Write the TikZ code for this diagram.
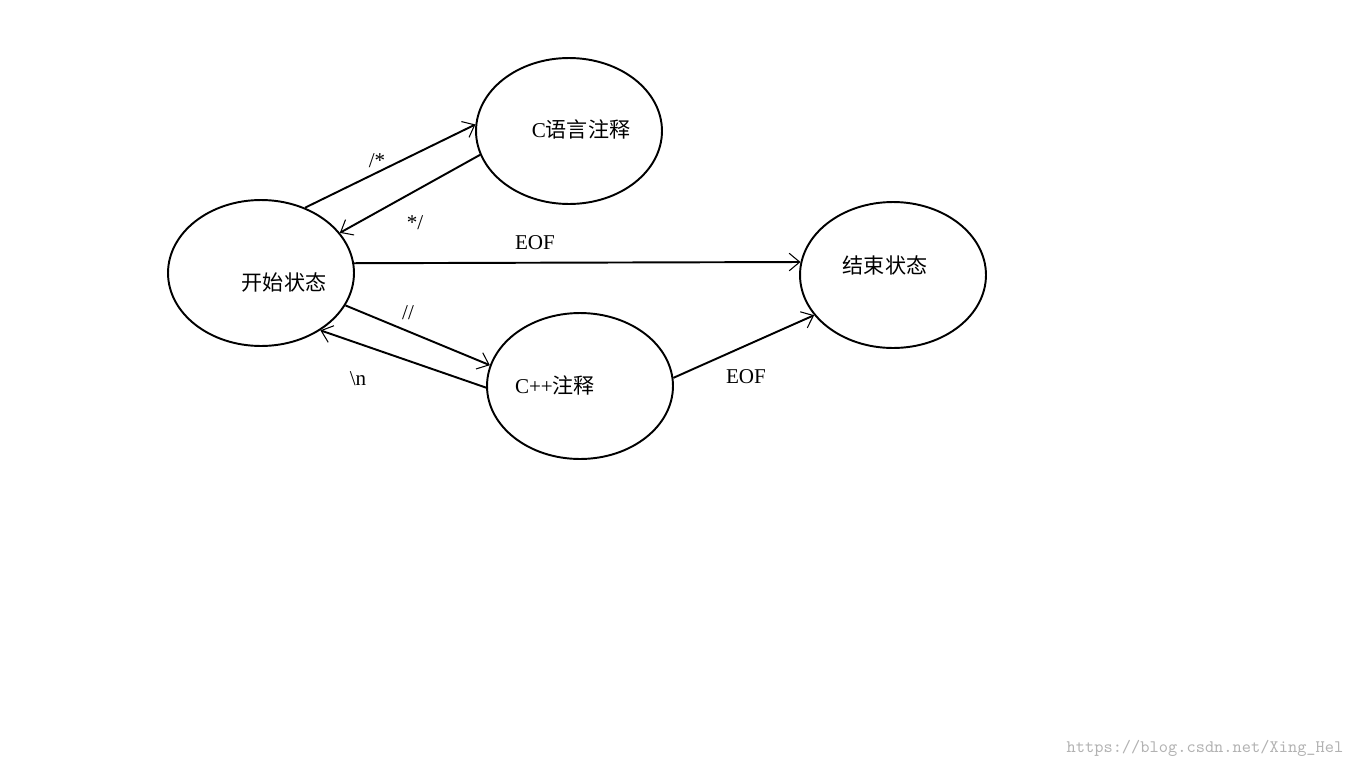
\documentclass[tikz,border=0pt]{standalone}
\usepackage{fontspec}
\setmainfont{Liberation Serif}
\newfontfamily\cjk{Noto Sans CJK SC}
\usetikzlibrary{shapes.geometric,arrows.meta}
\tikzset{
    state/.style={draw, ellipse, line width=1.1pt, minimum width=3.72cm, minimum height=2.92cm, inner sep=0pt},
    trans/.style={line width=1.1pt, -{Straight Barb[length=6pt,width=10pt,line width=0.6pt]}},
    txt/.style={font=\fontsize{12}{14}\selectfont}
}
\begin{document}
\begin{tikzpicture}[x=0.02cm, y=-0.02cm]

    \useasboundingbox (0,0) rectangle (1366,768);

    % Zustaende
    \node[state] (S) at (261,273) {};
    \node[state] (C) at (569,131) {};
    \node[state] (P) at (580,386) {};
    \node[state] (E) at (893,275) {};

    \node[txt] (tS) at (284,282) {\cjk 开始状态};
    \node[txt] (tC) at (581,129) {C\cjk 语言注释};
    \node[txt] (tP) at (555,385) {C++\cjk 注释};
    \node[txt] (tE) at (885,265) {\cjk 结束状态};

    % Uebergaenge
    \draw[trans] (S.56) -- (C.176);
    \draw[trans] (C.195) -- (S.27);
    \draw[trans] (S.6) -- (E.172);
    \draw[trans] (S.339) -- (P.167);
    \draw[trans] (P.181) -- (S.316);
    \draw[trans] (P.5) -- (E.207);

    \node[txt] (l1) at (377,161) {/*};
    \node[txt] (l2) at (415,223) {*/};
    \node[txt] (l3) at (535,243) {EOF};
    \node[txt] (l4) at (408,313) {//};
    \node[txt] (l5) at (358,379) {\textbackslash n};
    \node[txt] (l6) at (746,377) {EOF};

    \node[text=gray!60, font=\ttfamily\fontsize{10}{12}\selectfont] (wm) at (1205,748) {https://blog.csdn.net/Xing\_Hel};

\end{tikzpicture}
\end{document}
